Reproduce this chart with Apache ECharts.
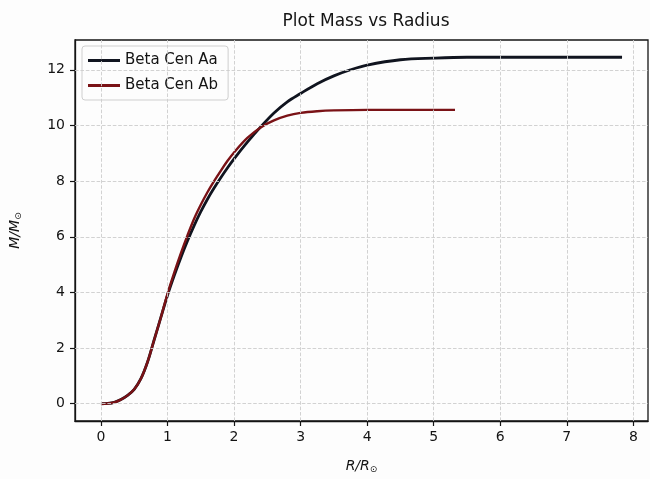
<!DOCTYPE html>
<html>
<head>
<meta charset="utf-8">
<title>Plot Mass vs Radius</title>
<script src="https://cdn.jsdelivr.net/npm/echarts@6/dist/echarts.min.js"></script>
<style>
  html, body { margin: 0; padding: 0; background: #fdfdfd; }
  #chart { width: 650px; height: 479px; }
</style>
</head>
<body>
<div id="chart"></div>
<script>
/* Mass vs radius profile, two components of Beta Cen (matplotlib look). */

// R/R_sun sample points and enclosed mass M/M_sun
const radiusAa = [0, 0.1, 0.2, 0.3, 0.4, 0.5, 0.6, 0.7, 0.8, 0.9, 1.0, 1.1, 1.2, 1.3, 1.4, 1.5, 1.6, 1.7, 1.8, 1.9, 2.0, 2.2, 2.4, 2.6, 2.8, 3.0, 3.25, 3.5, 3.75, 4.0, 4.5, 5.0, 5.5, 6.0, 7.0, 7.83];
const massAa   = [0, 0.01, 0.05, 0.15, 0.3, 0.52, 0.9, 1.5, 2.3, 3.1, 3.9, 4.6, 5.25, 5.85, 6.4, 6.9, 7.35, 7.75, 8.12, 8.47, 8.8, 9.4, 9.95, 10.45, 10.85, 11.15, 11.5, 11.78, 12.0, 12.17, 12.36, 12.42, 12.45, 12.45, 12.45, 12.45];

const radiusAb = [0, 0.1, 0.2, 0.3, 0.4, 0.5, 0.6, 0.7, 0.8, 0.9, 1.0, 1.1, 1.2, 1.3, 1.4, 1.5, 1.6, 1.7, 1.8, 1.9, 2.0, 2.2, 2.4, 2.6, 2.8, 3.0, 3.25, 3.5, 4.0, 4.5, 5.32];
const massAb   = [0, 0.01, 0.05, 0.15, 0.3, 0.52, 0.9, 1.5, 2.3, 3.1, 3.95, 4.7, 5.4, 6.05, 6.65, 7.15, 7.6, 8.0, 8.37, 8.72, 9.03, 9.55, 9.93, 10.18, 10.35, 10.45, 10.51, 10.54, 10.56, 10.56, 10.56];

const xTicks = [0, 1, 2, 3, 4, 5, 6, 7, 8];
const yTicks = [0, 2, 4, 6, 8, 10, 12];

const ink = '#141414';
const gridColor = '#cdcdcd';
const font = 'DejaVu Sans';

const pairs = (xs, ys) => xs.map((x, i) => [x, ys[i]]);

// gridlines drawn as markLines so they sit on the tick values, not on min
const gridLines = [
  ...xTicks.map(v => ({ xAxis: v })),
  ...yTicks.map(v => ({ yAxis: v })),
];

const axisCommon = {
  type: 'value',
  axisLine: { show: true, onZero: false, lineStyle: { color: ink, width: 1.3 } },
  splitLine: { show: false },
  axisTick: { show: true, inside: false, length: 5, lineStyle: { color: ink, width: 1.2 } },
  axisLabel: { color: ink, fontFamily: font, fontSize: 14 },
  nameTextStyle: {
    color: ink, fontFamily: font, fontSize: 14, fontStyle: 'italic',
    rich: {
      i: { fontFamily: font, fontSize: 14, fontStyle: 'italic', color: ink },
      s: { fontFamily: font, fontSize: 9, color: ink, verticalAlign: 'bottom', padding: [6, 0, 0, 0] },
    },
  },
};

const chart = echarts.init(document.getElementById('chart'), null, { renderer: 'canvas' });
chart.setOption({
  backgroundColor: '#fdfdfd',
  animation: false,
  title: {
    text: 'Plot Mass vs Radius',
    left: 361, top: 8, textAlign: 'center',
    textStyle: { color: ink, fontFamily: font, fontSize: 17, fontWeight: 'normal' },
  },
  grid: {
    left: 75, right: 2, top: 40, bottom: 58,
    show: true, borderColor: ink, borderWidth: 1.3, backgroundColor: 'transparent',
  },
  legend: {
    orient: 'vertical', left: 82, top: 46,
    backgroundColor: '#fdfdfd', borderColor: '#cfcfcf', borderWidth: 1, borderRadius: 3,
    padding: [7, 10, 7, 6], itemGap: 10,
    itemWidth: 32, itemHeight: 3, icon: 'rect',
    textStyle: { color: ink, fontFamily: font, fontSize: 15 },
    data: ['Beta Cen Aa', 'Beta Cen Ab'],
  },
  xAxis: {
    ...axisCommon,
    min: -0.39, max: 8.22,
    axisTick: { ...axisCommon.axisTick, customValues: xTicks },
    axisLabel: { ...axisCommon.axisLabel, customValues: xTicks, margin: 9 },
    name: '{i|R/R}{s|⊙}', nameLocation: 'middle', nameGap: 38,
  },
  yAxis: {
    ...axisCommon,
    min: -0.62, max: 13.07,
    axisTick: { ...axisCommon.axisTick, customValues: yTicks },
    axisLabel: { ...axisCommon.axisLabel, customValues: yTicks, margin: 10 },
    name: '{i|M/M}{s|⊙}', nameLocation: 'middle', nameGap: 52, nameRotate: 90,
  },
  series: [
    {
      type: 'line', data: [], silent: true, z: 1,
      markLine: {
        silent: true, symbol: 'none', animation: false,
        label: { show: false },
        lineStyle: { color: gridColor, type: 'dashed', width: 0.9 },
        data: gridLines,
      },
    },
    {
      name: 'Beta Cen Aa', type: 'line', data: pairs(radiusAa, massAa),
      showSymbol: false, smooth: 0.35, z: 3,
      lineStyle: { color: '#10141f', width: 2.8 }, itemStyle: { color: '#10141f' },
    },
    {
      name: 'Beta Cen Ab', type: 'line', data: pairs(radiusAb, massAb),
      showSymbol: false, smooth: 0.35, z: 4,
      lineStyle: { color: '#7a1216', width: 2.4 }, itemStyle: { color: '#7a1216' },
    },
  ],
});
</script>
</body>
</html>
